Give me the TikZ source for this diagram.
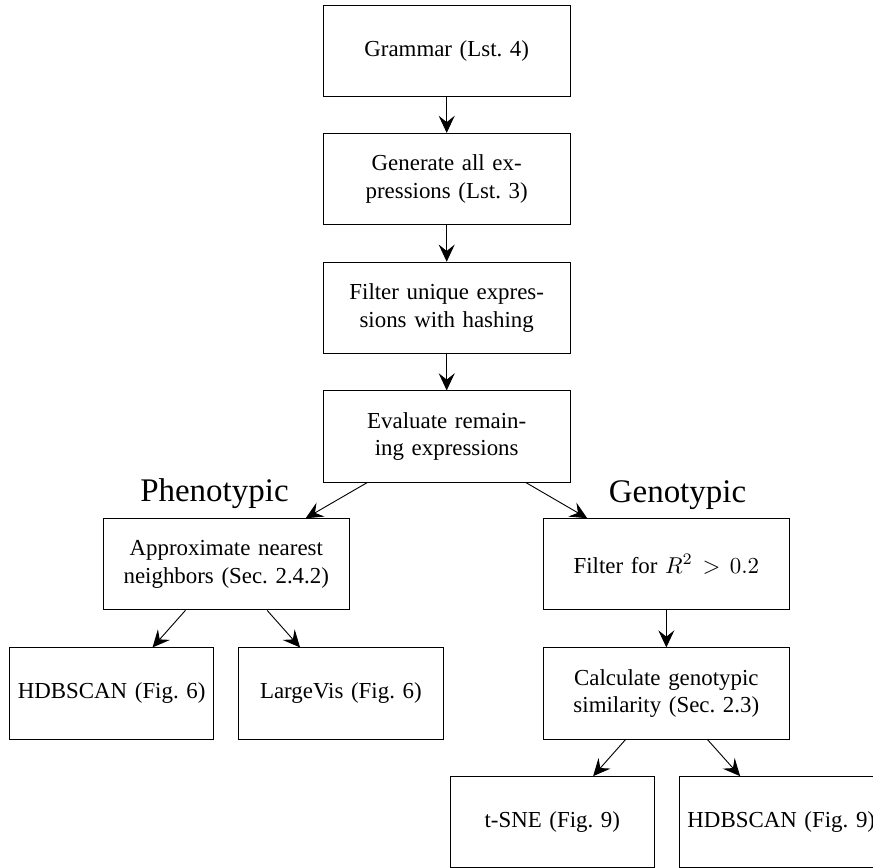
\documentclass[tikz,border=0pt]{standalone}
\usepackage{fontspec}
\setmainfont{Liberation Serif}
\usetikzlibrary{arrows.meta}

\begin{document}
\begin{tikzpicture}[
    stepbox/.style={draw, text width=3.55cm, align=center, minimum height=1.4cm},
    leafbox/.style={draw, text width=2.9cm, align=center, minimum height=1.4cm},
    flow/.style={-{Stealth[length=7.5pt,width=7pt,inset=2.8pt]}}
]
    \useasboundingbox (0,0) rectangle (13.399,-13.307);

    \node[stepbox] (Grammar) at (6.856,-0.781) {Grammar (Lst.~4)};
    \node[stepbox] (Generate) at (6.856,-2.747) {Generate all expressions (Lst.~3)};
    \node[stepbox] (Unique) at (6.856,-4.724) {Filter unique expressions with hashing};
    \node[stepbox] (Evaluate) at (6.856,-6.699) {Evaluate remaining expressions};

    \draw[flow] (Grammar) -- (Generate);
    \draw[flow] (Generate) -- (Unique);
    \draw[flow] (Unique) -- (Evaluate);

    \node[font=\Large, anchor=base east] (Phenotypic) at (4.554,-7.700) {Phenotypic};
    \node[font=\Large, anchor=base west] (Genotypic) at (9.220,-7.715) {Genotypic};

    \node[stepbox] (Nearest) at (3.473,-8.661) {Approximate nearest neighbors (Sec.~2.4.2)};
    \node[stepbox] (Filter) at (10.227,-8.661) {Filter for $R^2 > 0.2$};

    \draw[flow] (Evaluate) -- (Nearest);
    \draw[flow] (Evaluate) -- (Filter);

    \node[leafbox] (HDBSCANPheno) at (1.714,-10.644) {HDBSCAN (Fig.~6)};
    \node[leafbox] (LargeVis) at (5.232,-10.644) {LargeVis (Fig.~6)};
    \node[stepbox] (Similarity) at (10.227,-10.644) {Calculate genotypic similarity (Sec.~2.3)};

    \draw[flow] (Nearest) -- (HDBSCANPheno);
    \draw[flow] (Nearest) -- (LargeVis);
    \draw[flow] (Filter) -- (Similarity);

    \node[leafbox] (TSNE) at (8.477,-12.619) {t-SNE (Fig.~9)};
    \node[leafbox] (HDBSCANGeno) at (11.991,-12.619) {HDBSCAN (Fig.~9)};

    \draw[flow] (Similarity) -- (TSNE);
    \draw[flow] (Similarity) -- (HDBSCANGeno);
\end{tikzpicture}
\end{document}
